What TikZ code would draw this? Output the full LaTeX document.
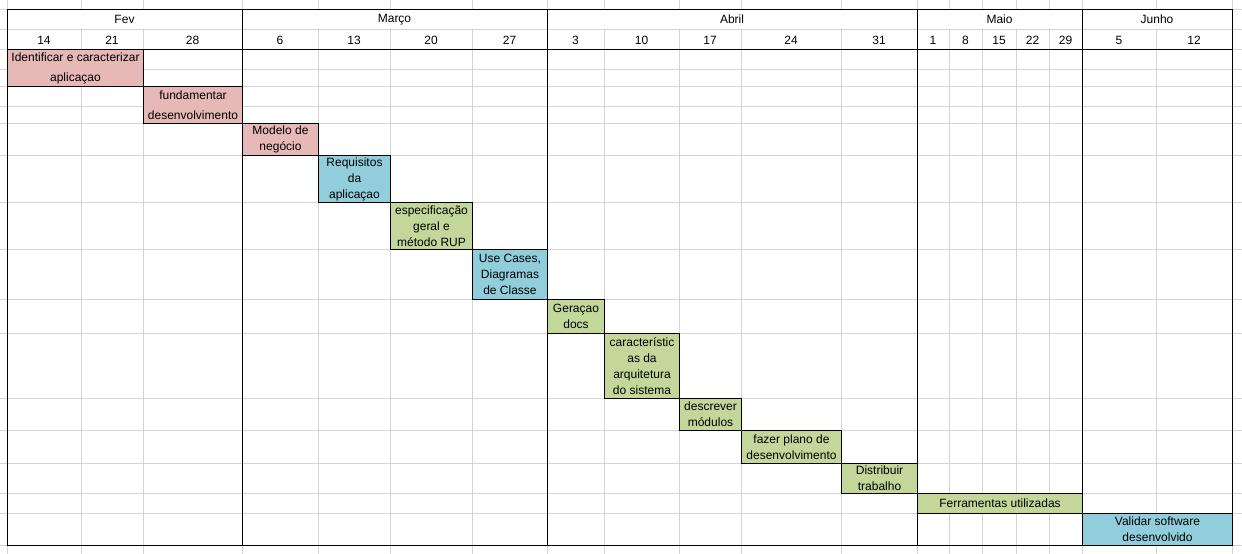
\documentclass[tikz,border=0pt]{standalone}
\usepackage{fontspec}
\setmainfont{Liberation Sans}
\usetikzlibrary{positioning}

\definecolor{pinkbar}{HTML}{E6B8B7}
\definecolor{bluebar}{HTML}{92CDDC}
\definecolor{greenbar}{HTML}{C4D79B}
\definecolor{gridgrey}{HTML}{D4D4D4}

\begin{document}
\begin{tikzpicture}[x=1pt, y=-1pt, font=\fontsize{12}{16}\selectfont]
				\tikzstyle{gridline}=[draw=gridgrey, line width=0.9pt]
				\tikzstyle{frame}=[draw=black, line width=1pt]
				\tikzstyle{task}=[draw=black, line width=1pt, align=center, inner sep=0pt, anchor=north west]
				\tikzstyle{label}=[inner sep=0pt]
				
				\useasboundingbox[fill=white] (0,0) rectangle (1242,554);
				
				% Grid
				\foreach \x in {7,81,143,242,318,390,472,547,604,679,741,841,917,949,982,1016,1049,1082,1156,1232}
				\draw[gridline] (\x,0) -- (\x,9) (\x,29) -- (\x,554);
				\foreach \y in {9,29,49,69,86,106,123,155,202,249,299,333,398,430,463,493,513,545}
				\draw[gridline] (0,\y) -- (1242,\y);
				
				% Frame
				\draw[frame] (7,9) rectangle (1232,545);
				\draw[frame] (7,49) -- (1232,49);
				\foreach \x in {242,547,917,1082}
				\draw[frame] (\x,9) -- (\x,545);
				
				% Months
				\node[label] (fev) at (124.5,19.5) {Fev};
				\node[label] (marco) at (394.5,19.5) {Março};
				\node[label] (abril) at (732,19.5) {Abril};
				\node[label] (maio) at (999.5,19.5) {Maio};
				\node[label] (junho) at (1157,19.5) {Junho};
				
				% Weeks
				\foreach \xa/\xb/\d in {7/81/14, 81/143/21, 143/242/28, 242/318/6, 318/390/13, 390/472/20, 472/547/27, 547/604/3, 604/679/10, 679/741/17, 741/841/24, 841/917/31, 917/949/1, 949/982/8, 982/1016/15, 1016/1049/22, 1049/1082/29, 1082/1156/5, 1156/1232/12}
				\node[label] (d-\d) at ({(\xa+\xb)/2},40) {\d};
				
				% Tasks
				\node[task, fill=pinkbar, minimum width=136pt, minimum height=37pt] (t-ident) at (7,49) {Identificar e caracterizar\\[4pt]aplicaçao};
				\node[task, fill=pinkbar, minimum width=99pt, minimum height=37pt] (t-fund) at (143,86) {fundamentar\\[4pt]desenvolvimento};
				\node[task, fill=pinkbar, minimum width=76pt, minimum height=32pt] (t-modelo) at (242,123) {Modelo de\\negócio};
				\node[task, fill=bluebar, minimum width=72pt, minimum height=47pt] (t-req) at (318,155) {Requisitos\\da\\aplicaçao};
				\node[task, fill=greenbar, minimum width=82pt, minimum height=47pt] (t-espec) at (390,202) {especificação\\geral e\\método RUP};
				\node[task, fill=bluebar, minimum width=75pt, minimum height=50pt] (t-use) at (472,249) {Use Cases,\\Diagramas\\de Classe};
				\node[task, fill=greenbar, minimum width=57pt, minimum height=34pt] (t-docs) at (547,299) {Geraçao\\docs};
				\node[task, fill=greenbar, minimum width=75pt, minimum height=65pt] (t-arq) at (604,333) {característic\\as da\\arquitetura\\do sistema};
				\node[task, fill=greenbar, minimum width=62pt, minimum height=32pt] (t-mod) at (679,398) {descrever\\módulos};
				\node[task, fill=greenbar, minimum width=100pt, minimum height=33pt] (t-plano) at (741,430) {fazer plano de\\desenvolvimento};
				\node[task, fill=greenbar, minimum width=76pt, minimum height=30pt] (t-dist) at (841,463) {Distribuir\\trabalho};
				\node[task, fill=greenbar, minimum width=165pt, minimum height=20pt] (t-ferr) at (917,493) {Ferramentas utilizadas};
				\node[task, fill=bluebar, minimum width=150pt, minimum height=32pt] (t-valid) at (1082,513) {Validar software\\desenvolvido};
			\end{tikzpicture}
\end{document}
